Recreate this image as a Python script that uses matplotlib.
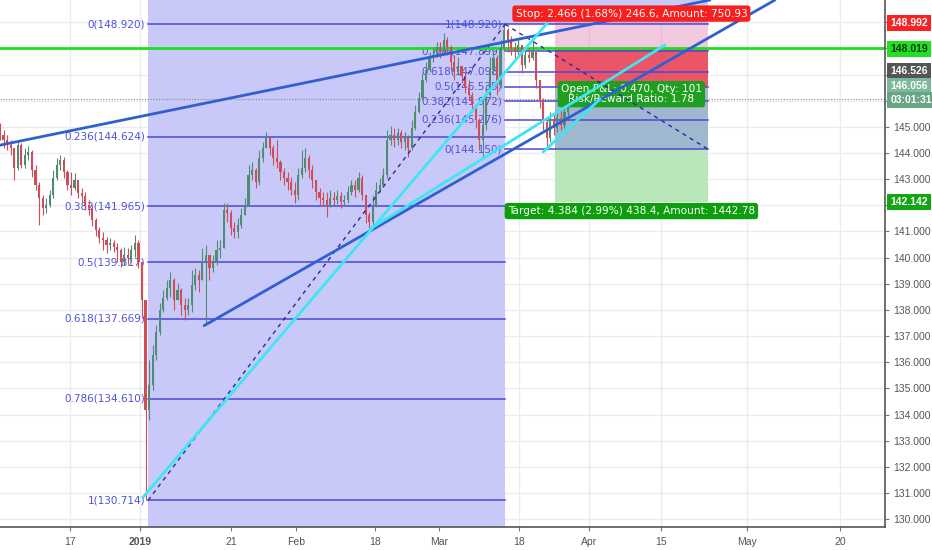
import numpy as np
import matplotlib.pyplot as plt
from matplotlib.transforms import blended_transform_factory

plt.rcParams['font.family'] = 'DejaVu Sans'

# candles, one bar = half a trading day (open = previous close)
first_open = 144.90
close = [144.69, 144.50, 144.30, 144.19, 143.43, 144.30, 143.54, 143.92, 144.04, 143.35,
         142.78, 142.28, 141.90, 142.01, 142.39, 143.04, 143.54, 143.73, 143.27, 142.78,
         142.66, 142.97, 142.47, 142.35, 142.01, 141.90, 141.44, 141.06, 140.75, 140.67,
         140.48, 140.56, 140.40, 140.29, 139.83, 140.10, 139.98, 140.29, 140.56, 139.83,
         138.38, 134.17, 135.13, 136.27, 137.15, 138.00, 138.45, 138.84, 139.14, 138.38,
         138.76, 138.19, 138.00, 138.19, 138.95, 139.33, 139.14, 139.83, 140.10, 139.60,
         139.83, 140.29, 140.37, 141.82, 141.70, 141.13, 140.98, 141.25, 141.63, 142.01,
         143.16, 143.35, 142.89, 143.81, 144.19, 144.57, 144.19, 143.81, 143.66, 143.27,
         143.04, 142.89, 142.58, 142.39, 143.16, 143.43, 143.81, 143.35, 142.97, 142.51,
         142.28, 142.20, 142.01, 142.28, 142.20, 142.35, 142.12, 142.20, 142.51, 142.78,
         142.58, 143.04, 142.39, 141.63, 141.36, 142.01, 142.58, 142.78, 143.16, 144.50,
         144.69, 144.50, 144.76, 144.42, 144.57, 144.19, 144.95, 145.57, 146.10, 146.79,
         147.17, 147.63, 147.75, 148.05, 147.86, 148.32, 148.05, 147.48, 147.10, 147.33,
         146.94, 146.48, 146.22, 145.83, 145.26, 144.50, 145.07, 146.22, 147.17, 147.63,
         146.60, 148.01, 148.70, 148.24, 148.01, 147.86, 148.13, 147.36, 147.75, 147.63,
         147.86, 146.79, 146.03, 145.18, 144.57, 145.26, 144.95, 145.34, 145.07, 145.57,
         146.06]
high = [145.15, 144.88, 144.69, 144.50, 144.11, 144.42, 144.38, 144.19, 144.27, 144.11,
        143.54, 142.89, 142.39, 142.28, 142.58, 143.35, 143.81, 143.92, 143.85, 143.35,
        143.27, 143.23, 142.97, 142.66, 142.51, 142.20, 142.01, 141.51, 141.17, 140.98,
        140.79, 140.75, 140.67, 140.56, 140.37, 140.40, 140.37, 140.48, 140.86, 140.67,
        139.83, 138.38, 136.08, 136.66, 137.42, 138.26, 138.76, 139.14, 139.45, 139.22,
        139.03, 138.84, 138.45, 138.45, 139.52, 139.60, 139.52, 140.37, 140.48, 140.10,
        140.10, 140.67, 140.67, 142.09, 142.09, 141.82, 141.36, 141.51, 141.90, 142.28,
        143.54, 143.66, 143.43, 144.11, 144.42, 144.80, 144.65, 144.30, 144.50, 143.73,
        143.43, 143.27, 143.08, 142.89, 143.43, 144.11, 144.19, 143.92, 143.54, 142.97,
        142.66, 142.51, 142.51, 142.58, 142.51, 142.58, 142.51, 142.39, 142.74, 142.97,
        142.97, 143.27, 143.16, 142.39, 141.74, 142.39, 142.89, 143.04, 143.43, 144.88,
        145.03, 144.95, 144.95, 144.88, 144.80, 144.69, 145.26, 145.83, 146.33, 147.06,
        147.48, 147.86, 148.01, 148.24, 148.24, 148.59, 148.43, 148.13, 147.75, 147.67,
        147.33, 147.10, 146.79, 146.33, 145.83, 145.34, 146.03, 146.60, 147.67, 147.94,
        147.75, 148.32, 148.92, 148.78, 148.47, 148.24, 148.32, 148.13, 147.94, 148.01,
        148.32, 147.86, 146.79, 146.10, 145.34, 145.57, 145.45, 145.57, 145.72, 145.80,
        146.10]
low = [144.50, 144.19, 144.11, 143.92, 142.97, 143.35, 143.43, 143.43, 143.73, 143.08,
       142.58, 141.25, 141.63, 141.70, 141.93, 142.28, 142.97, 143.35, 143.04, 142.58,
       142.39, 142.58, 142.28, 142.12, 141.82, 141.63, 141.21, 140.83, 140.56, 140.29,
       140.17, 140.29, 140.21, 139.83, 139.64, 139.71, 139.71, 139.83, 140.02, 139.60,
       137.69, 130.714, 133.79, 134.94, 136.08, 137.04, 137.92, 138.38, 138.49, 138.00,
       138.38, 137.80, 137.61, 137.80, 137.92, 138.76, 138.68, 139.33, 137.50, 139.14,
       139.45, 139.71, 139.98, 140.37, 141.36, 140.86, 140.75, 140.75, 141.13, 141.74,
       141.97, 142.97, 142.66, 142.78, 143.66, 144.19, 143.92, 143.54, 143.43, 142.97,
       142.78, 142.58, 142.39, 142.09, 142.20, 143.04, 143.27, 143.04, 142.66, 142.20,
       142.01, 141.97, 141.55, 141.93, 141.97, 142.05, 141.90, 142.01, 142.09, 142.39,
       142.32, 142.51, 142.20, 141.32, 141.06, 141.25, 141.93, 142.51, 142.70, 143.04,
       144.30, 144.23, 144.30, 144.19, 144.11, 143.85, 144.11, 144.88, 145.53, 146.03,
       146.71, 147.10, 147.48, 147.67, 147.63, 147.82, 147.75, 147.17, 146.79, 146.98,
       146.67, 146.29, 146.03, 145.57, 144.95, 144.11, 143.85, 144.88, 146.10, 146.98,
       146.22, 146.48, 147.94, 147.86, 147.75, 147.63, 147.75, 147.06, 147.25, 147.48,
       147.56, 146.48, 145.72, 144.88, 144.15, 144.42, 144.69, 144.80, 144.88, 144.95,
       145.41]

# date ticks (bar index)
tick_pos = [19.7, 39.4, 65.1, 83.4, 105.6, 123.7, 146.2, 165.9, 186.2, 210.4, 236.6]
tick_lab = ['17', '2019', '21', 'Feb', '18', 'Mar', '18', 'Apr', '15', 'May', '20']

# fib retracements (level, price as shown)
fib_levels = [0, 0.236, 0.382, 0.5, 0.618, 0.786, 1]
fib1_x = [41.7, 142.3]
fib1_prices = [148.920, 144.624, 141.965, 139.817, 137.669, 134.610, 130.714]
fib2_x = [142.3, 199.4]
fib2_prices = [144.150, 145.276, 145.972, 146.535, 147.098, 147.899, 148.920]

# trend lines (bar, price)
blue_lines = [([0, 200], [144.30, 149.85]), ([57.5, 218.3], [137.40, 149.85])]
cyan_lines = [([40.3, 154.4], [130.84, 149.01]), ([104.2, 187.3], [141.09, 148.13]),
              ([153.0, 169.0], [144.04, 146.06])]

# short position tool
pos_x = [156.3, 199.4]
entry, stop, target = 146.526, 148.992, 142.142
last_price = 146.056
green_level = 148.019

# right scale: integer ticks, some hidden behind price boxes
scale_ticks = list(range(130, 150))
hidden_ticks = [142, 146, 147, 148, 149]

fig = plt.figure(figsize=(9.32, 5.5), dpi=100)
ax = fig.add_axes([0, 0.0418, 0.9496, 0.9582])
ax.set_xlim(0, 249.3)
ax.set_ylim(129.70, 149.85)

# grid
for p in scale_ticks:
    ax.axhline(p, color='#ebebf2', lw=1, zorder=0)
for t in tick_pos:
    ax.axvline(t, color='#ebebf2', lw=1, zorder=0)

lav = '#c9c9f9'
ax.axvspan(fib1_x[0], fib1_x[1], color=lav, lw=0, zorder=1)
ax.fill_between(fib2_x, fib2_prices[-1], 149.85, color=lav, lw=0, zorder=1)

# position zones
ax.fill_between(pos_x, entry, stop, color='#e07ab0', alpha=0.4, lw=0, zorder=1.2)
ax.fill_between(pos_x, entry, green_level, color='#e8394a', alpha=0.8, lw=0, zorder=1.3)
ax.fill_between(pos_x, target, entry, color='#b9e6b9', lw=0, zorder=1.2)
ax.fill_between(pos_x, fib2_prices[0], entry, color='#9fb7cf', lw=0, zorder=1.25)

# fib levels
fib_col = '#4a4ad2'
for lv, p1, p2 in zip(fib_levels, fib1_prices, fib2_prices):
    ax.plot(fib1_x, [p1, p1], color=fib_col, lw=1.1, zorder=2)
    ax.text(fib1_x[0] - 0.8, p1, f"{lv:g}({p1:.3f})", ha='right', va='center',
            fontsize=7.5, color='#5050dc', zorder=2)
    ax.plot(fib2_x, [p2, p2], color=fib_col, lw=1.1, zorder=2)
    ax.text(fib2_x[0] - 0.8, p2, f"{lv:g}({p2:.3f})", ha='right', va='center',
            fontsize=7.5, color='#5050dc', zorder=2)

ax.axhline(last_price, color='#888888', lw=0.8, ls=(0, (1, 1.5)), zorder=2)
ax.axhline(green_level, color='#1ee01e', lw=2, zorder=2)

# candles
opens = [first_open] + close[:-1]
for i, (o, h, l, c) in enumerate(zip(opens, high, low, close)):
    col = '#4f8c72' if c >= o else '#cf4d58'
    ax.vlines(i, min(l, o, c), max(h, o, c), color=col, lw=0.8, zorder=3)
    ax.bar(i, c - o if abs(c - o) > 0.02 else 0.03, bottom=o, width=0.6, color=col, lw=0, zorder=3)

# drawings
ax.plot(fib1_x, [fib1_prices[-1], fib1_prices[0]], color='#2a2aa0', lw=1, ls=(0, (3, 3)), zorder=4)
ax.plot(fib2_x, [fib2_prices[-1], fib2_prices[0]], color='#2a2aa0', lw=1, ls=(0, (3, 3)), zorder=4)
for xs, ys in blue_lines:
    ax.plot(xs, ys, color='#3060d0', lw=2, zorder=4, solid_capstyle='round')
for xs, ys in cyan_lines:
    ax.plot(xs, ys, color='#3ee6f2', lw=2, zorder=4.1, solid_capstyle='round')

# position labels
mid = (pos_x[0] + pos_x[1]) / 2
ax.text(mid, 149.33, "Stop: 2.466 (1.68%) 246.6, Amount: 750.93", ha='center', va='center',
        fontsize=7.6, color='white', zorder=6,
        bbox=dict(boxstyle='round,pad=0.3', fc='#f81f1f', ec='none'))
ax.text(mid, 141.78, "Target: 4.384 (2.99%) 438.4, Amount: 1442.78", ha='center', va='center',
        fontsize=7.6, color='white', zorder=6,
        bbox=dict(boxstyle='round,pad=0.3', fc='#0c9e0c', ec='none'))
ax.text(mid, 146.25, "Open P&L: 0.470, Qty: 101\nRisk/Reward Ratio: 1.78", ha='center', va='center',
        fontsize=7.6, color='white', zorder=3.5, linespacing=1.0,
        bbox=dict(boxstyle='round,pad=0.3', fc='#1f9f1f', ec='none'))

# axes styling
for s in ['top', 'left']:
    ax.spines[s].set_visible(False)
ax.spines['right'].set_color('#555555')
ax.spines['bottom'].set_color('#555555')
ax.spines['right'].set_linewidth(1.2)
ax.spines['bottom'].set_linewidth(1.2)
ax.yaxis.tick_right()
ax.set_yticks(scale_ticks)
ax.set_yticklabels(['' if v in hidden_ticks else f"{v}.000" for v in scale_ticks],
                   fontsize=7.5, color='#555555', family='Liberation Sans')
ax.tick_params(axis='y', length=3, color='#777777', pad=3)
ax.set_xticks(tick_pos)
ax.set_xticklabels(tick_lab, fontsize=7.5, color='#555555', family='Liberation Sans')
ax.get_xticklabels()[1].set_fontweight('bold')
ax.tick_params(axis='x', length=3, color='#777777', pad=4)

# price scale boxes
tr = blended_transform_factory(ax.transAxes, ax.transData)
boxes = [(148.97, '148.992', '#f82222', 'white'),
         (147.99, '148.019', '#22e022', '#0b3a0b'),
         (147.13, '146.526', '#555555', 'white'),
         (146.56, '146.056', '#7cb89a', 'white'),
         (146.03, '03:01:31', '#67a585', 'white'),
         (142.13, '142.142', '#12a612', 'white')]
for yv, txt, fc, tc in boxes:
    ax.text(1.006, yv, txt, transform=tr, ha='left', va='center', fontsize=7.5,
            family='Liberation Sans', weight='bold', color=tc, zorder=10, clip_on=False,
            bbox=dict(boxstyle='square,pad=0.3', fc=fc, ec='none'))

fig.savefig('out.png', dpi=100)
